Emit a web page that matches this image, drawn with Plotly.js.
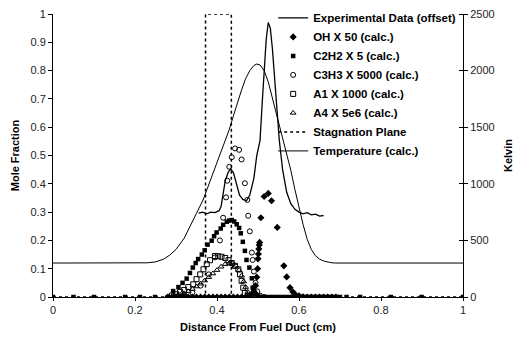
<!DOCTYPE html>
<html><head>
<script src="https://cdn.plot.ly/plotly-3.0.1.min.js"></script>
<style>body{margin:0;background:#fff}</style>
</head><body>
<div id="g" style="width:514px;height:342px"></div>
<script>
// Experimental data (offset), mole-fraction axis
const expX = [0.355,0.365,0.375,0.385,0.395,0.405,0.41,0.415,0.42,0.427,0.433,0.44,0.447,0.455,0.463,0.472,0.48,0.49,0.497,0.505,0.51,0.515,0.52,0.525,0.53,0.535,0.54,0.546,0.552,0.56,0.57,0.58,0.59,0.60,0.61,0.62,0.63,0.64,0.65,0.66];
const expY = [0.296,0.300,0.294,0.300,0.298,0.305,0.32,0.37,0.41,0.44,0.453,0.44,0.40,0.36,0.345,0.34,0.36,0.42,0.50,0.553,0.68,0.80,0.91,0.97,0.95,0.88,0.78,0.66,0.553,0.45,0.37,0.33,0.31,0.300,0.294,0.298,0.290,0.293,0.286,0.288];

// OH x 50
const ohX = [0.28,0.29,0.30,0.31,0.32,0.33,0.34,0.35,0.36,0.37,0.38,0.39,0.40,0.41,0.42,0.43,0.44,0.45,0.46,0.47,0.475,0.48,0.485,0.49,0.494,0.497,0.499,0.500,0.501,0.502,0.503,0.504,0.507,0.515,0.525,0.533,0.547,0.563,0.570,0.578,0.585,0.59,0.60,0.61,0.62,0.63,0.64,0.65,0.66,0.67,0.68,0.69];
const ohY = [0,0,0,0,0,0,0,0,0,0,0,0,0,0,0,0,0,0,0,0,0.001,0.003,0.008,0.02,0.04,0.07,0.10,0.135,0.152,0.17,0.184,0.193,0.28,0.355,0.366,0.34,0.246,0.11,0.071,0.033,0.018,0.01,0.004,0.001,0,0,0,0,0,0,0,0];

// C2H2 x 5
const c2h2X = [0,0.05,0.10,0.176,0.212,0.249,0.28,0.293,0.306,0.316,0.326,0.334,0.341,0.348,0.354,0.363,0.37,0.377,0.387,0.393,0.399,0.409,0.415,0.424,0.43,0.436,0.442,0.448,0.454,0.458,0.463,0.468,0.472,0.479,0.485,0.487,0.49,0.494,0.50,0.51,0.52,0.53,0.54,0.55,0.56,0.57,0.58,0.59,0.60,0.61,0.62,0.63,0.64,0.65,0.66,0.67,0.68,0.69,0.70,0.716,0.749,0.824,0.899,1.0];
const c2h2Y = [0,0,0,0,0,0,0,0.021,0.035,0.05,0.065,0.085,0.104,0.12,0.134,0.15,0.165,0.185,0.199,0.215,0.228,0.242,0.255,0.266,0.27,0.272,0.267,0.257,0.244,0.225,0.195,0.163,0.131,0.104,0.066,0.033,0.02,0.01,0.004,0,0,0,0,0,0,0,0,0,0,0,0,0,0,0,0,0,0,0,0,0,0,0,0,0];

// C3H3 x 5000
const c3h3X = [0.30,0.32,0.34,0.36,0.38,0.395,0.407,0.415,0.422,0.425,0.43,0.436,0.444,0.454,0.46,0.468,0.474,0.476,0.48,0.485,0.487,0.49,0.494,0.498,0.505,0.515];
const c3h3Y = [0,0.005,0.015,0.04,0.08,0.14,0.20,0.28,0.352,0.411,0.46,0.494,0.525,0.52,0.486,0.402,0.343,0.287,0.232,0.157,0.131,0.09,0.05,0.02,0.005,0];

// A1 x 1000
const a1X = [0.29,0.30,0.31,0.32,0.33,0.342,0.35,0.359,0.367,0.375,0.383,0.395,0.403,0.411,0.42,0.428,0.436,0.444,0.452,0.456,0.46,0.464,0.468,0.475,0.485];
const a1Y = [0.005,0.01,0.018,0.025,0.035,0.045,0.063,0.08,0.098,0.116,0.13,0.145,0.144,0.142,0.138,0.13,0.12,0.11,0.098,0.08,0.057,0.033,0.014,0.005,0];

// A4 x 5e6
const a4X = [0.30,0.31,0.32,0.33,0.34,0.35,0.36,0.37,0.38,0.39,0.40,0.41,0.42,0.43,0.438,0.446,0.454,0.46,0.465,0.47,0.475,0.48,0.49,0.50];
const a4Y = [0.003,0.008,0.013,0.02,0.028,0.037,0.047,0.058,0.07,0.083,0.095,0.107,0.116,0.12,0.118,0.11,0.095,0.075,0.055,0.035,0.018,0.008,0.002,0];

// Stagnation plane outline
const stagX = [0,0.372,0.372,0.435,0.435,1];
const stagY = [0,0,1,1,0,0];

// Temperature (calc.), Kelvin axis
const tX = [0,0.20,0.23,0.25,0.27,0.285,0.30,0.32,0.334,0.35,0.366,0.38,0.395,0.411,0.42,0.43,0.44,0.45,0.46,0.47,0.48,0.49,0.497,0.505,0.515,0.525,0.535,0.545,0.553,0.562,0.57,0.58,0.59,0.60,0.61,0.62,0.63,0.64,0.65,0.66,0.67,0.68,0.69,1.0];
const tY = [300,300,302,310,335,371,420,520,618,740,857,990,1150,1299,1370,1480,1600,1720,1830,1930,2000,2045,2058,2050,2000,1900,1760,1620,1500,1387,1270,1120,950,790,640,510,420,365,335,318,307,302,300,300];

const kTicks = [0,500,1000,1500,2000,2500];

const F = 'Arial, "Liberation Sans", sans-serif';
const traces = [
  {x: expX, y: expY, name: '<b>Experimental Data (offset)</b>', mode: 'lines', line: {color: '#000', width: 1.3}},
  {x: ohX, y: ohY, name: '<b>OH X 50 (calc.)</b>', mode: 'markers', marker: {symbol: 'diamond', size: 5.5, color: '#000'}},
  {x: c2h2X, y: c2h2Y, name: '<b>C2H2 X 5 (calc.)</b>', mode: 'markers', marker: {symbol: 'square', size: 4.5, color: '#000'}},
  {x: c3h3X, y: c3h3Y, name: '<b>C3H3 X 5000 (calc.)</b>', mode: 'markers', marker: {symbol: 'circle-open', size: 5, color: '#000', line: {width: 1}}},
  {x: a1X, y: a1Y, name: '<b>A1 X 1000 (calc.)</b>', mode: 'markers', marker: {symbol: 'square-open', size: 5, color: '#000', line: {width: 1}}},
  {x: a4X, y: a4Y, name: '<b>A4 X 5e6 (calc.)</b>', mode: 'markers', marker: {symbol: 'triangle-up-open', size: 5, color: '#000', line: {width: 1}}},
  {x: stagX, y: stagY, name: '<b>Stagnation Plane</b>', mode: 'lines', line: {color: '#000', width: 1.5, dash: '3px,3px'}},
  {x: tX, y: tY, name: '<b>Temperature (calc.)</b>', mode: 'lines', yaxis: 'y2', line: {color: '#000', width: 1}},
  {x: [0], y: [0], yaxis: 'y3', mode: 'markers', marker: {opacity: 0}, showlegend: false, hoverinfo: 'skip'}
];

const layout = {
  width: 514, height: 342,
  margin: {l: 53, r: 51, t: 14, b: 45, autoexpand: false},
  paper_bgcolor: '#fff', plot_bgcolor: '#fff',
  font: {family: F, size: 11, color: '#000'},
  showlegend: true,
  legend: {x: 0.537, y: 0.99, yref: 'container', xanchor: 'left', yanchor: 'top', bgcolor: 'rgba(0,0,0,0)', font: {family: F, size: 11.5}, itemwidth: 30, tracegroupgap: 0},
  xaxis: {range: [0, 1], tickvals: [0,0.2,0.4,0.6,0.8,1], ticktext: ['0','0.2','0.4','0.6','0.8','1'], showgrid: false, zeroline: false, showline: true, linecolor: '#000', ticks: 'outside', ticklen: 3, tickcolor: '#000', tickfont: {family: F, size: 11, color: '#222'},
    title: {text: '<b>Distance From Fuel Duct (cm)</b>', font: {family: F, size: 11}, standoff: 8}},
  yaxis: {range: [0, 1], tickvals: [0,0.1,0.2,0.3,0.4,0.5,0.6,0.7,0.8,0.9,1], ticktext: ['0','0.1','0.2','0.3','0.4','0.5','0.6','0.7','0.8','0.9','1'], showgrid: false, zeroline: false, showline: true, linecolor: '#000', ticks: 'outside', ticklen: 4, tickcolor: '#000', tickfont: {family: F, size: 11, color: '#222'},
    title: {text: '<b>Mole Fraction</b>', font: {family: F, size: 11}, standoff: 8}},
  yaxis2: {range: [0, 2500], overlaying: 'y', side: 'right', anchor: 'x', tickvals: kTicks, ticktext: kTicks.map(String), showgrid: false, zeroline: false, showline: true, linecolor: '#000', ticks: 'outside', ticklen: 4, tickcolor: '#000', tickfont: {family: F, size: 11, color: '#222'},
    title: {text: '<b>Kelvin</b>', font: {family: F, size: 11}, standoff: 10}},
  yaxis3: {range: [0, 2500], overlaying: 'y', side: 'left', anchor: 'free', position: 1, tickvals: kTicks, showticklabels: false, showgrid: false, zeroline: false, showline: false, ticks: 'outside', ticklen: 4, tickcolor: '#000'}
};
Plotly.newPlot('g', traces, layout, {staticPlot: true, displayModeBar: false});
</script>
</body></html>
